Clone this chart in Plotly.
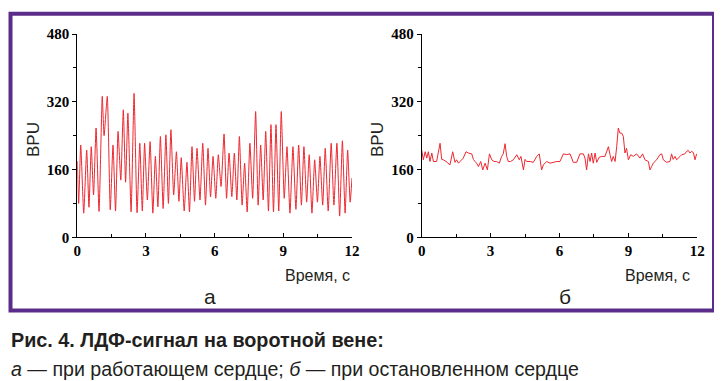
import plotly.graph_objects as go

# ---- data: panel "а" (working heart) ----
time_a = [0.00, 0.06, 0.15, 0.28, 0.41, 0.51, 0.61, 0.71, 0.82, 0.95,
          1.09, 1.17, 1.31, 1.44, 1.56, 1.67, 1.78, 1.90, 2.01, 2.11,
          2.21, 2.35, 2.48, 2.61, 2.73, 2.84, 2.94, 3.06, 3.18, 3.30,
          3.41, 3.52, 3.63, 3.75, 3.87, 3.98, 4.09, 4.21, 4.33, 4.44,
          4.54, 4.67, 4.79, 4.90, 5.01, 5.12, 5.23, 5.36, 5.48, 5.60,
          5.71, 5.82, 5.93, 6.05, 6.16, 6.28, 6.41, 6.52, 6.63, 6.75,
          6.86, 6.97, 7.08, 7.20, 7.31, 7.42, 7.54, 7.66, 7.79, 7.90,
          8.01, 8.12, 8.23, 8.35, 8.46, 8.57, 8.68, 8.80, 8.91, 9.04,
          9.16, 9.29, 9.42, 9.55, 9.67, 9.79, 9.90, 10.02, 10.13, 10.25,
          10.37, 10.49, 10.60, 10.72, 10.83, 10.96, 11.09, 11.21, 11.34, 11.46,
          11.58, 11.70, 11.81, 11.92, 12.00]
bpu_a = [180, 80, 218, 57, 206, 71, 214, 100, 258, 61,
         333, 240, 333, 65, 218, 62, 250, 135, 301, 130,
         293, 60, 340, 58, 222, 62, 222, 88, 226, 57,
         191, 72, 238, 68, 242, 80, 254, 100, 202, 85,
         188, 62, 177, 60, 214, 85, 210, 88, 222, 76,
         210, 95, 191, 92, 195, 120, 244, 92, 199, 96,
         199, 88, 238, 76, 175, 60, 222, 92, 297, 76,
         218, 88, 250, 62, 266, 60, 266, 62, 297, 92,
         214, 57, 214, 66, 218, 76, 214, 83, 195, 57,
         183, 83, 191, 76, 210, 62, 222, 76, 222, 50,
         228, 57, 206, 83, 140]

# ---- data: panel "б" (stopped heart) ----
time_b = [0.00, 0.07, 0.15, 0.22, 0.29, 0.36, 0.44, 0.51, 0.65, 0.80,
          0.87, 0.94, 1.06, 1.16, 1.23, 1.35, 1.45, 1.52, 1.60, 1.67,
          1.81, 1.93, 2.03, 2.18, 2.25, 2.32, 2.39, 2.47, 2.57, 2.66,
          2.76, 2.86, 2.95, 3.05, 3.15, 3.26, 3.38, 3.48, 3.55, 3.63,
          3.70, 3.77, 3.87, 3.99, 4.14, 4.25, 4.32, 4.43, 4.50, 4.57,
          4.72, 4.86, 5.01, 5.12, 5.22, 5.30, 5.44, 5.59, 5.73, 5.88,
          6.02, 6.17, 6.31, 6.46, 6.60, 6.75, 6.89, 7.04, 7.11, 7.18,
          7.26, 7.33, 7.40, 7.47, 7.55, 7.62, 7.73, 7.84, 7.98, 8.13,
          8.20, 8.27, 8.34, 8.42, 8.49, 8.56, 8.63, 8.71, 8.78, 8.85,
          8.92, 9.00, 9.10, 9.21, 9.36, 9.50, 9.62, 9.72, 9.87, 9.94,
          10.01, 10.08, 10.23, 10.37, 10.45, 10.52, 10.66, 10.81, 10.88, 10.95,
          11.03, 11.10, 11.25, 11.32, 11.46, 11.54, 11.61, 11.68, 11.75, 11.83,
          11.90, 11.97]
bpu_b = [206, 183, 202, 187, 202, 179, 199, 179, 179, 222,
         184, 183, 179, 175, 171, 202, 177, 183, 175, 179,
         187, 202, 199, 197, 184, 179, 175, 167, 179, 159,
         175, 159, 197, 183, 179, 179, 175, 191, 197, 221,
         191, 179, 179, 183, 195, 183, 191, 159, 184, 179,
         179, 177, 191, 197, 159, 171, 179, 175, 177, 179,
         179, 197, 195, 197, 177, 177, 197, 197, 187, 159,
         197, 179, 199, 175, 199, 177, 189, 191, 191, 214,
         195, 179, 191, 179, 214, 258, 246, 246, 238, 199,
         210, 183, 195, 191, 197, 187, 197, 183, 179, 159,
         167, 175, 183, 195, 197, 183, 177, 179, 197, 184,
         191, 183, 191, 195, 197, 203, 205, 199, 203, 200,
         183, 197]

assert len(time_a) == len(bpu_a), (len(time_a), len(bpu_a))
assert len(time_b) == len(bpu_b), (len(time_b), len(bpu_b))

x_ticks = [0, 3, 6, 9, 12]
y_ticks = [0, 160, 320, 480]
panel_labels = ["а", "б"]

# The page body has an 8px margin, so the figure is drawn 8px smaller and
# every position below is given in window pixels, shifted by that offset.
OFF = 8
WIN_W, WIN_H = 722, 381
W, H = WIN_W - OFF, WIN_H - OFF
RED = "rgb(236,40,48)"
PURPLE = "rgb(92,44,138)"
TXT = "#231f20"


def px(x):
    return (x - OFF) / W


def py(y):
    return (WIN_H - y) / H


fig = go.Figure()
fig.add_trace(go.Scatter(x=time_a, y=bpu_a, mode="lines",
                         line=dict(color=RED, width=1, shape="spline", smoothing=0.5),
                         xaxis="x", yaxis="y"))
fig.add_trace(go.Scatter(x=time_b, y=bpu_b, mode="lines",
                         line=dict(color=RED, width=1), xaxis="x2", yaxis="y2"))

serif = "Liberation Serif"
tickfont = dict(family=serif, size=15, color="black", weight="bold")

xcommon = dict(range=[0, 12], tickvals=x_ticks, ticktext=[str(v) for v in x_ticks],
               ticks="inside", ticklen=4, tickcolor="black", tickwidth=1,
               minor=dict(dtick=1.5, tick0=0, ticks="inside", ticklen=3, tickcolor="black"),
               showline=True, linecolor="black", linewidth=1, automargin=False,
               showgrid=False, zeroline=False, tickfont=tickfont, fixedrange=True)
ycommon = dict(range=[0, 480], tickvals=y_ticks, ticktext=[str(v) for v in y_ticks],
               ticks="outside", ticklen=4, tickcolor="black", tickwidth=1,
               minor=dict(dtick=80, tick0=0, ticks="outside", ticklen=3, tickcolor="black"),
               showline=True, linecolor="black", linewidth=1, automargin=False,
               showgrid=False, zeroline=False, tickfont=tickfont, fixedrange=True)

ydom = [py(237.3), py(34)]

fig.update_layout(
    template="none",
    width=W, height=H, autosize=False,
    margin=dict(l=0, r=0, t=0, b=0, pad=0, autoexpand=False),
    paper_bgcolor="white", plot_bgcolor="white",
    font=dict(family="Liberation Sans", color=TXT),
    showlegend=False,
    xaxis=dict(domain=[px(77.3), px(352)], anchor="y", **xcommon),
    yaxis=dict(domain=ydom, anchor="x", **ycommon),
    xaxis2=dict(domain=[px(421.7), px(697.3)], anchor="y2", **xcommon),
    yaxis2=dict(domain=ydom, anchor="x2", **ycommon),
)

fig.add_shape(type="rect", xref="paper", yref="paper",
              x0=px(10.5), x1=px(714), y0=py(310.5), y1=py(13.8),
              line=dict(color=PURPLE, width=4))

sans = "Liberation Sans"
narrow = "Liberation Sans Narrow, Liberation Sans"

anns = []
for bx in (33, 377):
    anns.append(dict(text="BPU", x=px(bx), y=py(140), xref="paper", yref="paper",
                     textangle=-90, showarrow=False, xanchor="center", yanchor="middle",
                     font=dict(family=sans, size=17, color=TXT)))
for rx in (352, 692):
    anns.append(dict(text="Время, с", x=px(rx), y=py(275), xref="paper", yref="paper",
                     showarrow=False, xanchor="right", yanchor="middle",
                     font=dict(family=sans, size=16, color=TXT)))
for lx, lab in zip((210, 565), panel_labels):
    anns.append(dict(text=lab, x=px(lx), y=py(296), xref="paper", yref="paper",
                     showarrow=False, xanchor="center", yanchor="middle",
                     font=dict(family=sans, size=21, color=TXT)))
anns.append(dict(text="<b>Рис. 4. ЛДФ-сигнал на воротной вене:</b>", x=px(9), y=py(340),
                 xref="paper", yref="paper", showarrow=False, xanchor="left", yanchor="middle",
                 font=dict(family=narrow, size=19.8, color=TXT)))
anns.append(dict(text="<i>а</i> — при работающем сердце; <i>б</i> — при остановленном сердце",
                 x=px(9), y=py(369), xref="paper", yref="paper", showarrow=False,
                 xanchor="left", yanchor="middle",
                 font=dict(family=narrow, size=19.6, color=TXT)))
fig.update_layout(annotations=anns)

fig.write_html("out.html")
